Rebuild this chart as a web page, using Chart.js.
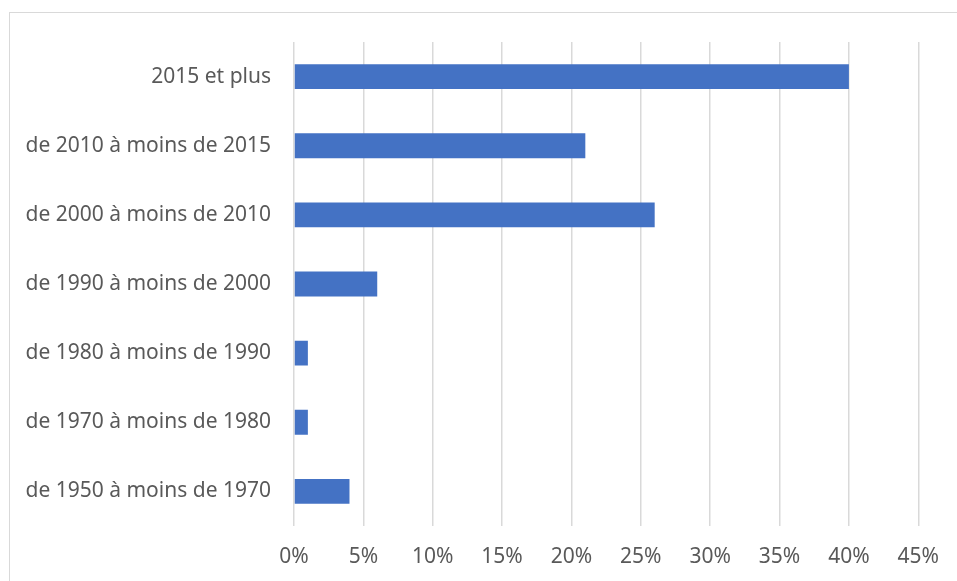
<!DOCTYPE html>
<html>
<head>
<meta charset="utf-8">
<script src="https://cdn.jsdelivr.net/npm/chart.js@4/dist/chart.umd.min.js"></script>
<style>
  html, body { margin: 0; padding: 0; background: #ffffff; }
  #wrap { position: relative; width: 957px; height: 581px; overflow: hidden; }
  #frame { position: absolute; left: 9px; top: 12px; width: 980px; height: 600px; border: 1px solid #d9d9d9; box-sizing: border-box; }
  canvas { position: absolute; left: 0; top: 0; }
</style>
</head>
<body>
<div id="wrap">
  <div id="frame"></div>
  <canvas id="chart" width="957" height="581"></canvas>
</div>
<script>
// Périodes de construction et part correspondante (%)
const categories = [
  "2015 et plus",
  "de 2010 à moins de 2015",
  "de 2000 à moins de 2010",
  "de 1990 à moins de 2000",
  "de 1980 à moins de 1990",
  "de 1970 à moins de 1980",
  "de 1950 à moins de 1970"
];
const shares = [40, 21, 26, 6, 1, 1, 4];
const xTicks = [0, 5, 10, 15, 20, 25, 30, 35, 40, 45];

const textColor = "#595959";
const fontFamily = "'Noto Sans', 'Open Sans', sans-serif";

new Chart(document.getElementById("chart"), {
  type: "bar",
  data: {
    labels: categories,
    datasets: [{
      data: shares,
      backgroundColor: "#4472c4",
      borderWidth: 0,
      categoryPercentage: 1,
      barPercentage: 0.36
    }]
  },
  options: {
    indexAxis: "y",
    responsive: false,
    animation: false,
    layout: { padding: { left: 0, right: 37, top: 42, bottom: 0 } },
    plugins: { legend: { display: false }, tooltip: { enabled: false } },
    scales: {
      x: {
        min: 0,
        max: 45,
        afterBuildTicks: (axis) => { axis.ticks = xTicks.map(v => ({ value: v })); },
        afterFit: (axis) => { axis.height = 55; },
        grid: { color: "#d9d9d9", lineWidth: 1.5, drawTicks: false },
        border: { display: false },
        ticks: {
          padding: 18,
          color: textColor,
          font: { family: fontFamily, size: 21 },
          callback: (v) => v + "%"
        }
      },
      y: {
        afterFit: (axis) => { axis.width = 294; },
        grid: { display: false, drawTicks: false },
        border: { display: false },
        ticks: {
          padding: 23,
          color: textColor,
          font: { family: fontFamily, size: 21 }
        }
      }
    }
  }
});
</script>
</body>
</html>
